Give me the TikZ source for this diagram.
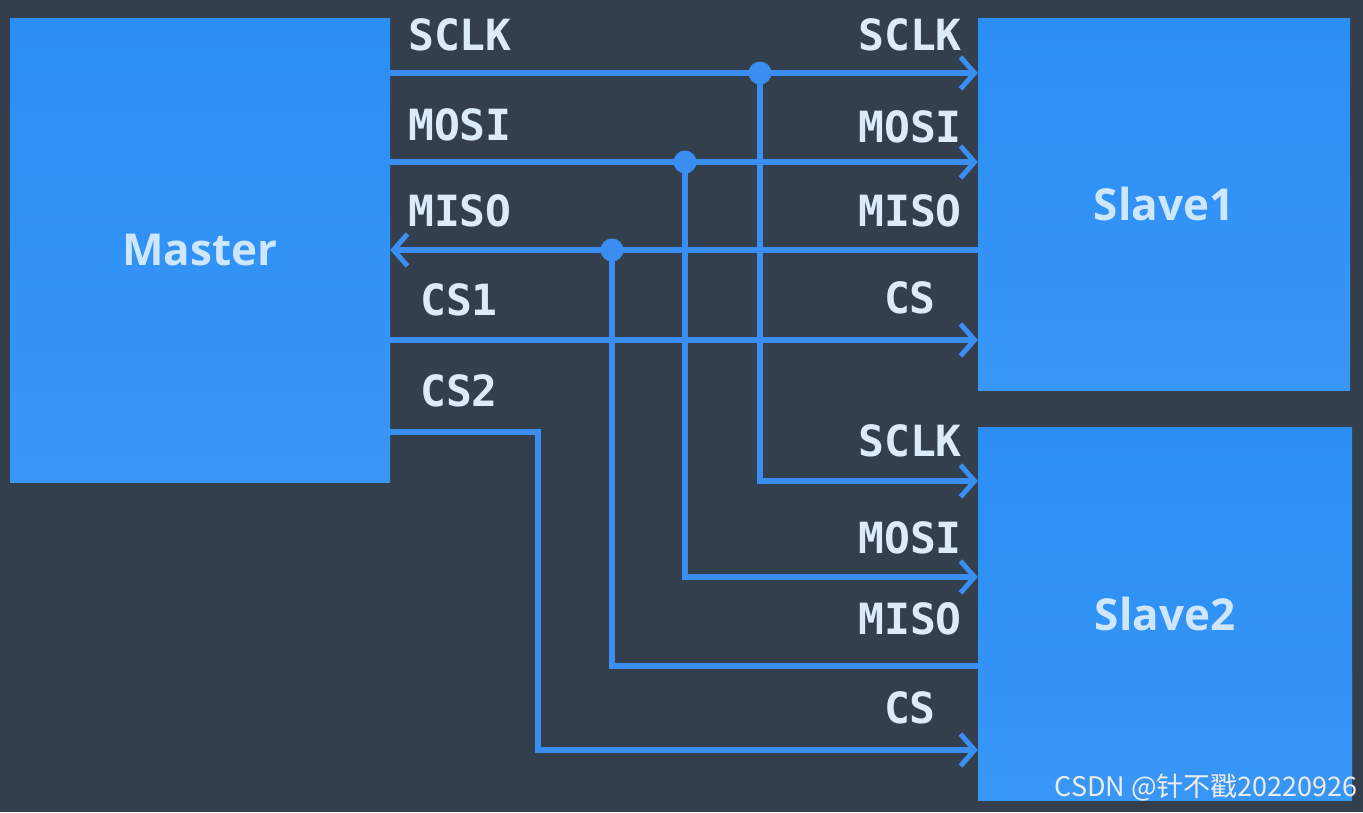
\documentclass[tikz,border=0pt]{standalone}
\usepackage{fontspec}
\usetikzlibrary{arrows.meta}
\newfontfamily\labfont{DejaVu Sans Mono}
\newfontfamily\boxfont{Open Sans}
\newfontfamily\wmfont{Noto Sans CJK SC}
\definecolor{bg}{HTML}{343F4E}
\definecolor{boxblue}{HTML}{2B8EF5}
\definecolor{boxblue2}{HTML}{3896F6}
\definecolor{wire}{HTML}{3A8EF2}
\definecolor{labtext}{HTML}{DCEBFA}
\definecolor{boxtext}{HTML}{CFE6FF}
\tikzset{
  chip/.style={draw=none, top color=boxblue, bottom color=boxblue2, inner sep=0pt, text=boxtext,
    font=\boxfont\bfseries\fontsize{44}{44}\selectfont},
  sig/.style={draw=wire, line width=5.5pt},
  sigarrow/.style={sig, -{Straight Barb[length=14pt,width=32pt,line width=5pt]}},
  tap/.style={circle, fill=wire, inner sep=0pt, minimum size=23pt},
  lab/.style={text=labtext, inner sep=0pt, font=\labfont\bfseries\fontsize{43}{43}\selectfont},
}
\begin{document}
\begin{tikzpicture}[x=1pt,y=-1pt]
\fill[bg] (0,0) rectangle (1363,812);
\useasboundingbox (0,0) rectangle (1363,812);
% boxes
\node[chip, minimum width=380pt, minimum height=464pt] (master) at (200,250) {Master};
\node[chip, minimum width=372pt, minimum height=372pt] (slave1) at (1164,204) {Slave1};
\node[chip, minimum width=374pt, minimum height=373pt] (slave2) at (1165,613.5) {Slave2};
% tap coordinates
\coordinate (tclk) at (760,73);
\coordinate (tmosi) at (685,162);
\coordinate (tmiso) at (612,250);
\coordinate (ccs) at (538,432);
% Slave1 wires
\draw[sigarrow] (master.east |- tclk) -- (slave1.west |- tclk);
\draw[sigarrow] (master.east |- tmosi) -- (slave1.west |- tmosi);
\draw[sigarrow] (slave1.west |- tmiso) -- (master.east |- tmiso);
\draw[sigarrow] (master.east |- 0,340) -- (slave1.west |- 0,340);
% Slave2 wires
\draw[sigarrow] (tclk) -- (tclk |- 0,481) -- (slave2.west |- 0,481);
\draw[sigarrow] (tmosi) -- (tmosi |- 0,577) -- (slave2.west |- 0,577);
\draw[sig] (tmiso) -- (tmiso |- 0,666) -- (slave2.west |- 0,666);
\draw[sigarrow] (master.east |- ccs) -- (ccs) -- (ccs |- 0,750) -- (slave2.west |- 0,750);
% taps
\node[tap] (dclk) at (tclk) {};
\node[tap] (dmosi) at (tmosi) {};
\node[tap] (dmiso) at (tmiso) {};
% left labels
\node[lab, anchor=west] (l1) at (408,35) {SCLK};
\node[lab, anchor=west] (l2) at (408,125) {MOSI};
\node[lab, anchor=west] (l3) at (408,211) {MISO};
\node[lab, anchor=west] (l4) at (420,300) {CS1};
\node[lab, anchor=west] (l5) at (420,391) {CS2};
% right labels slave1
\node[lab, anchor=east] (r1) at (962,35) {SCLK};
\node[lab, anchor=east] (r2) at (962,127) {MOSI};
\node[lab, anchor=east] (r3) at (962,211) {MISO};
\node[lab, anchor=east] (r4) at (936,298) {CS};
% right labels slave2
\node[lab, anchor=east] (s1) at (962,441) {SCLK};
\node[lab, anchor=east] (s2) at (962,538) {MOSI};
\node[lab, anchor=east] (s3) at (962,619) {MISO};
\node[lab, anchor=east] (s4) at (936,708) {CS};
% watermark
\node[anchor=east, inner sep=0pt, text=white!85!gray, font=\wmfont\fontsize{27}{27}\selectfont] (wm) at (1358,788) {CSDN @针不戳20220926};
\end{tikzpicture}
\end{document}
